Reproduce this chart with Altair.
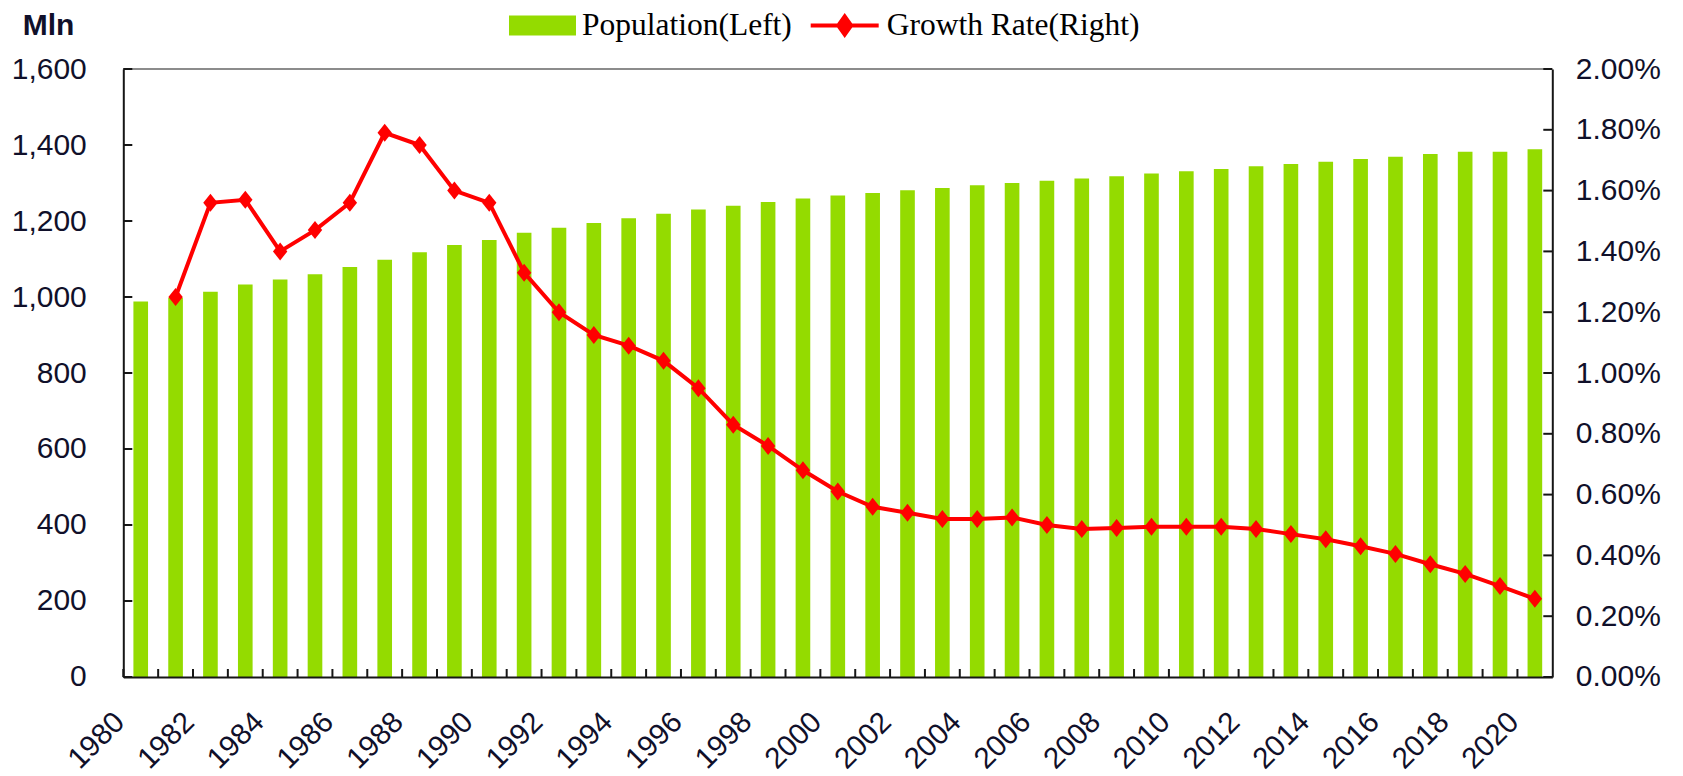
import altair as alt
import pandas as pd

# ---- data ----
years = list(range(1980, 2021))
population = [988, 998, 1014, 1033, 1046, 1060, 1079, 1098, 1118, 1137, 1150, 1169, 1182, 1195,
              1207, 1219, 1230, 1240, 1250, 1259, 1267, 1274, 1281, 1287, 1294, 1300, 1306, 1312,
              1318, 1325, 1331, 1337, 1344, 1350, 1356, 1363, 1369, 1376, 1382, 1382, 1389]
growth_years = list(range(1981, 2021))
growth_rate = [1.25, 1.56, 1.57, 1.40, 1.47, 1.56, 1.79, 1.75, 1.60, 1.56,
               1.33, 1.20, 1.125, 1.09, 1.04, 0.95, 0.83, 0.76, 0.68, 0.61,
               0.56, 0.54, 0.52, 0.52, 0.525, 0.50, 0.487, 0.49, 0.494, 0.494,
               0.494, 0.487, 0.47, 0.453, 0.43, 0.405, 0.371, 0.339, 0.299, 0.257]
left_ticks = [0, 200, 400, 600, 800, 1000, 1200, 1400, 1600]
right_ticks = [0.0, 0.2, 0.4, 0.6, 0.8, 1.0, 1.2, 1.4, 1.6, 1.8, 2.0]

W, H = 1429, 608
GREEN = "#94DB00"
RED = "#FF0000"
TEXT = "#10102a"
AXIS = "#161616"
SANS = "Liberation Sans"
SERIF = "Liberation Serif"

pop_df = pd.DataFrame({"year": years, "population": population})
rate_df = pd.DataFrame({"year": growth_years, "rate": growth_rate})
lt_df = pd.DataFrame({"v": left_ticks})
rt_df = pd.DataFrame({"v": right_ticks})

xscale = alt.Scale(type="band", paddingInner=0, paddingOuter=0)
xaxis = alt.Axis(title=None, ticks=False, tickSize=0, domain=True,
                 domainColor=AXIS, domainWidth=2, labelAngle=315, labelAlign="right",
                 labelBaseline="middle", labelPadding=40, labelOffset=-21, labelFont=SANS,
                 labelFontSize=29.5, labelColor=TEXT, grid=False, zindex=1,
                 labelExpr="datum.value % 2 == 0 ? '' + datum.value : ''")

lscale = alt.Scale(domain=[0, 1600], nice=False)
rscale = alt.Scale(domain=[0, 2], nice=False)

laxis = alt.Axis(orient="left", title="Mln", titleAngle=0, titleAlign="left",
                 titleBaseline="alphabetic", titleX=-101, titleY=-35, titleFont=SANS,
                 titleFontSize=30, titleFontWeight="bold", titleColor=TEXT,
                 values=left_ticks, labelExpr="format(datum.value, ',')",
                 labelFont=SANS, labelFontSize=30,
                 labelColor=TEXT, labelPadding=37, ticks=False, tickSize=0,
                 domainColor=AXIS, domainWidth=2, grid=False, zindex=1)
raxis = alt.Axis(orient="right", title=None, values=right_ticks,
                 labelExpr="format(datum.value, '.2f') + '%'", labelFont=SANS,
                 labelFontSize=30, labelColor=TEXT, labelPadding=23, ticks=False,
                 tickSize=0, domainColor=AXIS, domainWidth=2, grid=False, zindex=1)

bars = alt.Chart(pop_df).transform_calculate(series="'Population(Left)'").mark_bar(
    width=alt.RelativeBandSize(0.42)
).encode(
    x=alt.X("year:O", scale=xscale, axis=xaxis),
    y=alt.Y("population:Q", scale=lscale, axis=laxis),
    color=alt.Color("series:N",
                    scale=alt.Scale(domain=["Population(Left)"], range=[GREEN]),
                    legend=alt.Legend(title=None, orient="none", legendX=385.7, legendY=-77,
                                      symbolType="M-1,-0.3H1V0.3H-1Z", symbolSize=4489,
                                      symbolStrokeWidth=0, labelFont=SERIF, labelFontSize=31.5,
                                      labelColor="#000", labelOffset=6, labelLimit=600,
                                      padding=0)),
)

xticks = alt.Chart(pop_df).mark_rule(color=AXIS, strokeWidth=2).encode(
    x=alt.X("year:O", bandPosition=0, scale=xscale, axis=xaxis),
    y=alt.value(H), y2=alt.value(H - 8),
)

lticks = alt.Chart(lt_df).mark_rule(color=AXIS, strokeWidth=2).encode(
    y=alt.Y("v:Q", scale=lscale, axis=laxis),
    x=alt.value(0), x2=alt.value(9),
)

top_border = alt.Chart(pd.DataFrame({"v": [1600]})).mark_rule(color="#8c8c8c", strokeWidth=2).encode(
    y=alt.Y("v:Q", scale=lscale, axis=laxis),
    x=alt.value(0), x2=alt.value(W),
)

line = alt.Chart(rate_df).transform_calculate(series="'Growth Rate(Right)'").mark_line(
    strokeWidth=4
).encode(
    x=alt.X("year:O", scale=xscale, axis=xaxis),
    y=alt.Y("rate:Q", scale=rscale, axis=raxis),
    stroke=alt.Stroke("series:N",
                      scale=alt.Scale(domain=["Growth Rate(Right)"], range=[RED]),
                      legend=alt.Legend(title=None, orient="none", legendX=685.4, legendY=-79.5,
                                        symbolType="M-1,0H1M0,-0.265L0.19,0L0,0.265L-0.19,0Z",
                                        symbolSize=4624, symbolStrokeWidth=4,
                                        symbolFillColor=RED, labelFont=SERIF, labelFontSize=31.5,
                                        labelColor="#000", labelOffset=6, labelLimit=600,
                                        padding=0)),
)

points = alt.Chart(rate_df).mark_point(
    shape="M0,-1L0.8,0L0,1L-0.8,0Z", filled=True, size=324, color=RED, opacity=1
).encode(
    x=alt.X("year:O", scale=xscale, axis=xaxis),
    y=alt.Y("rate:Q", scale=rscale, axis=raxis),
)

rticks = alt.Chart(rt_df).mark_rule(color=AXIS, strokeWidth=2).encode(
    y=alt.Y("v:Q", scale=rscale, axis=raxis),
    x=alt.value(W - 9), x2=alt.value(W),
)

left = alt.layer(top_border, bars, xticks, lticks)
right = alt.layer(line, points, rticks)

chart = alt.layer(left, right).resolve_scale(y="independent").properties(
    width=W, height=H,
    autosize=alt.AutoSizeParams(type="none"),
    padding={"left": 115.3, "top": 61, "right": 120, "bottom": 100},
    background="white",
).configure_view(stroke=None)

chart.save("out.html", embed_options={"renderer": "svg", "actions": False})
